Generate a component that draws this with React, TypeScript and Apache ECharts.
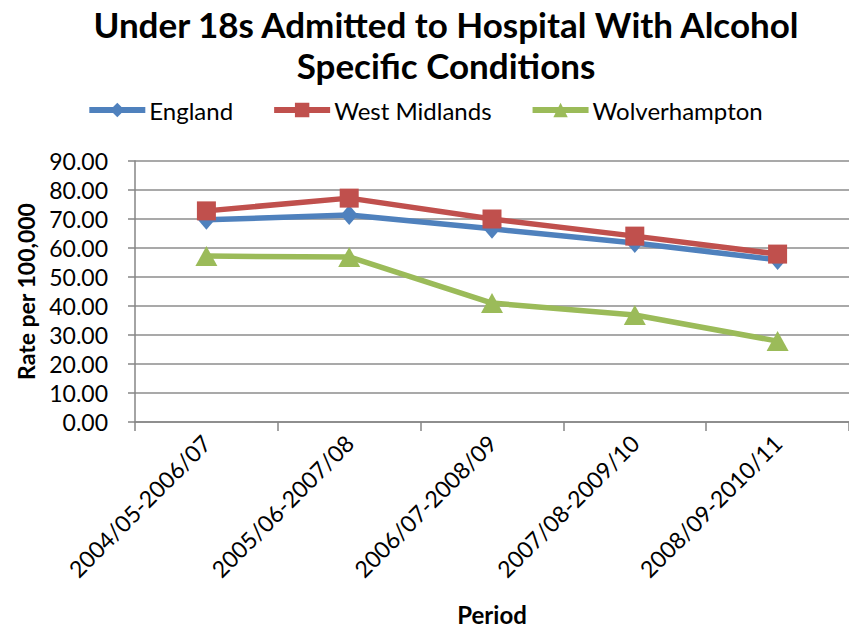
import React, { useEffect, useRef } from "react";
import * as echarts from "echarts";

const categories = [
  "2004/05-2006/07",
  "2005/06-2007/08",
  "2006/07-2008/09",
  "2007/08-2009/10",
  "2008/09-2010/11",
];
const england = [69.7, 71.4, 66.6, 61.7, 55.9];
const westMidlands = [72.8, 77.2, 70.0, 64.1, 57.9];
const wolverhampton = [57.2, 56.9, 41.0, 36.9, 27.9];

const FONT = "Lato, 'Open Sans', sans-serif";

export default function App() {
  const ref = useRef<HTMLDivElement>(null);
  useEffect(() => {
    if (!ref.current) return;
    const chart = echarts.init(ref.current, undefined, { renderer: "svg" });
    const mk = (name: string, data: number[], color: string, symbol: string, size: any) => ({
      name,
      type: "line",
      data,
      symbol,
      symbolSize: size,
      lineStyle: { color, width: 5.5 },
      itemStyle: { color },
    });
    chart.setOption({
      animation: false,
      backgroundColor: "#ffffff",
      textStyle: { fontFamily: FONT },
      title: {
        text: "Under 18s Admitted to Hospital With Alcohol\nSpecific Conditions",
        left: 441,
        textAlign: "center",
        top: -2,
        textStyle: { fontFamily: FONT, fontSize: 35, fontWeight: "bold", color: "#000", lineHeight: 41 },
      },
      legend: {
        top: 93,
        left: "center",
        itemGap: 38,
        itemWidth: 56,
        itemHeight: 18,
        lineStyle: { width: 6 },
        textStyle: { fontFamily: FONT, fontSize: 24, color: "#000", padding: [0, 0, 0, -1] },
        data: ["England", "West Midlands", "Wolverhampton"],
      },
      grid: { left: 135, top: 161, width: 720, height: 261, containLabel: false },
      xAxis: {
        type: "category",
        data: categories,
        boundaryGap: true,
        name: "Period",
        nameLocation: "middle",
        nameGap: 180,
        nameTextStyle: { fontFamily: FONT, fontSize: 24, fontWeight: "bold", color: "#000" },
        axisLine: { lineStyle: { color: "#868686", width: 1.5 } },
        axisTick: { show: true, length: 9, lineStyle: { color: "#868686", width: 1.5 } },
        axisLabel: { rotate: 45, fontFamily: FONT, fontSize: 23, color: "#000", margin: 17 },
      },
      yAxis: {
        type: "value",
        min: 0,
        max: 90,
        interval: 10,
        name: "Rate per 100,000",
        nameLocation: "middle",
        nameGap: 98,
        nameTextStyle: { fontFamily: FONT, fontSize: 23, fontWeight: "bold", color: "#000" },
        axisLine: { show: true, lineStyle: { color: "#868686", width: 1.5 } },
        axisTick: { show: true, length: 7, lineStyle: { color: "#868686", width: 1.5 } },
        splitLine: { lineStyle: { color: "#8c8c8c", width: 1.5 } },
        axisLabel: {
          fontFamily: FONT,
          fontSize: 23,
          color: "#000",
          margin: 27,
          formatter: (v: number) => v.toFixed(2),
        },
      },
      series: [
        mk("England", england, "#4F81BD", "diamond", [17, 20]),
        mk("West Midlands", westMidlands, "#C0504D", "rect", 19),
        mk("Wolverhampton", wolverhampton, "#9BBB59", "triangle", [22, 20]),
      ],
    });
    return () => chart.dispose();
  }, []);
  return (
    <div
      ref={ref}
      style={{ position: "fixed", left: 0, top: 0, width: 849, height: 628 }}
    />
  );
}
